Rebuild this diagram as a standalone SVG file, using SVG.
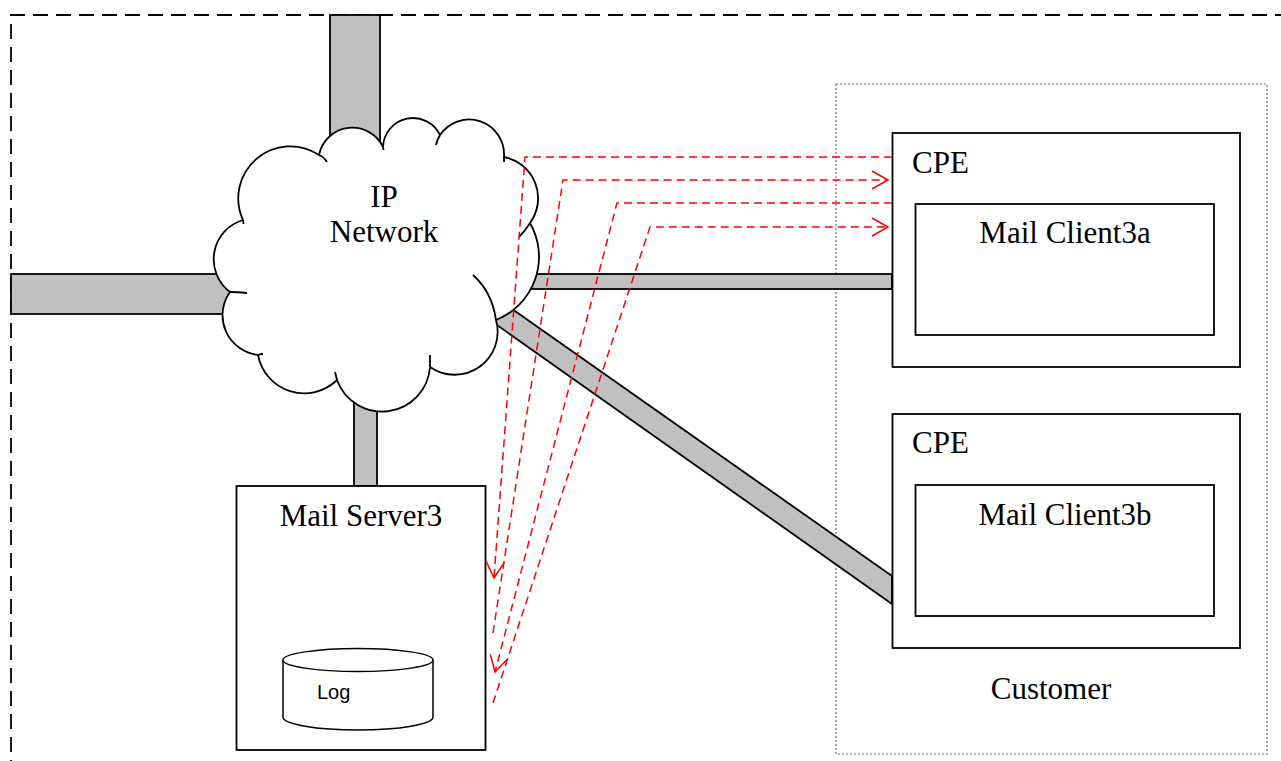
<svg xmlns="http://www.w3.org/2000/svg" width="1281" height="761" viewBox="0 0 1281 761">
<style>
.bar{fill:#c0c0c0;stroke:#000;stroke-width:1.8}
.box{fill:#fff;stroke:#000;stroke-width:1.8}
.t{font-family:"Liberation Serif","Times New Roman",serif;font-size:31px;fill:#000}
.ts{font-family:"Liberation Sans",Arial,sans-serif;font-size:20px;fill:#000}
.red{fill:none;stroke:#ff0000;stroke-width:1.5;stroke-dasharray:8 5}
</style>
<defs>
<marker id="arr" markerUnits="userSpaceOnUse" markerWidth="22" markerHeight="22" viewBox="-18 -11 22 22" refX="0" refY="0" orient="auto">
<path d="M-16,-9 L0,0 L-16,9" fill="none" stroke="#ff0000" stroke-width="1.5"/>
</marker>
</defs>
<rect width="1281" height="761" fill="#fff"/>
<path d="M11,775 L11,15 L1295,15" fill="none" stroke="#000" stroke-width="1.8" stroke-dasharray="15 8"/>
<g id="customer">
<rect x="836" y="84" width="431" height="670" fill="none" stroke="#707070" stroke-width="1.2" stroke-dasharray="2 2"/>
<text class="t" x="1051" y="699" text-anchor="middle">Customer</text>
</g>
<g id="links">
<rect class="bar" x="330" y="15" width="50" height="160"/>
<rect class="bar" x="11" y="274" width="230" height="40"/>
<rect class="bar" x="500" y="274" width="392" height="15"/>
<rect class="bar" x="354" y="370" width="23" height="116"/>
<polygon class="bar" points="470,279.4 892,576 892,604 470,306"/>
</g>
<g id="cloud">
<path d="M243,220 A52 52 0 0 1 319,155 A34 34 0 0 1 383,147 A30 30 0 0 1 440,135 A35 35 0 0 1 504,157 A42 42 0 0 1 530,223 A68 68 0 0 1 496,320 A43 43 0 0 1 430,367 A48 48 0 0 1 337,380 A47 47 0 0 1 258,355 A40 40 0 0 1 230,292 A41 41 0 0 1 243,220 Z" fill="#fff" stroke="#000" stroke-width="1.8"/>
<path d="M319,155 Q324,157 327,162 M383,147 L383.5,150 M440,135 Q437,140 436,145 M504,157 L504,162 M530,223 Q525,231 519,237 M473,275 Q492,292 496,320 M430,367 L430,355 M337,380 Q336,376 335,372 M258,355 Q260,354 263,354 M230,292 Q239,292 247,293 M243,220 L243.5,224" fill="none" stroke="#000" stroke-width="1.8"/>
<text class="t" x="384" y="207" text-anchor="middle">IP</text>
<text class="t" x="384" y="242" text-anchor="middle">Network</text>
</g>
<g id="mailserver">
<rect class="box" x="236.5" y="486" width="249" height="264"/>
<text class="t" x="361" y="526" text-anchor="middle">Mail Server3</text>
</g>
<g id="log">
<path d="M283,660 L283,717 A75 13 0 0 0 433,717 L433,660" fill="#fff" stroke="#000" stroke-width="1.5"/>
<ellipse cx="358" cy="660" rx="75" ry="11.5" fill="#fff" stroke="#000" stroke-width="1.5"/>
<text class="ts" x="317" y="699">Log</text>
</g>
<g id="cpe-a">
<rect class="box" x="892.5" y="133" width="347.5" height="234"/>
<text class="t" x="912" y="173">CPE</text>
</g>
<g id="client3a">
<rect class="box" x="915.5" y="204" width="298.5" height="131"/>
<text class="t" x="1065" y="243" text-anchor="middle">Mail Client3a</text>
</g>
<g id="cpe-b">
<rect class="box" x="892.5" y="414" width="347.5" height="234"/>
<text class="t" x="912" y="453">CPE</text>
</g>
<g id="client3b">
<rect class="box" x="915.5" y="485" width="298.5" height="131"/>
<text class="t" x="1065" y="525" text-anchor="middle">Mail Client3b</text>
</g>
<g id="connectors">
<path class="red" d="M892,157 L525,157 L494,578" marker-end="url(#arr)"/>
<path class="red" d="M493,633 L563,180 L888,180" marker-end="url(#arr)"/>
<path class="red" d="M892,203 L617,203 L495,672" marker-end="url(#arr)"/>
<path class="red" d="M493,703 L650,227 L888,227" marker-end="url(#arr)"/>
</g>
</svg>
